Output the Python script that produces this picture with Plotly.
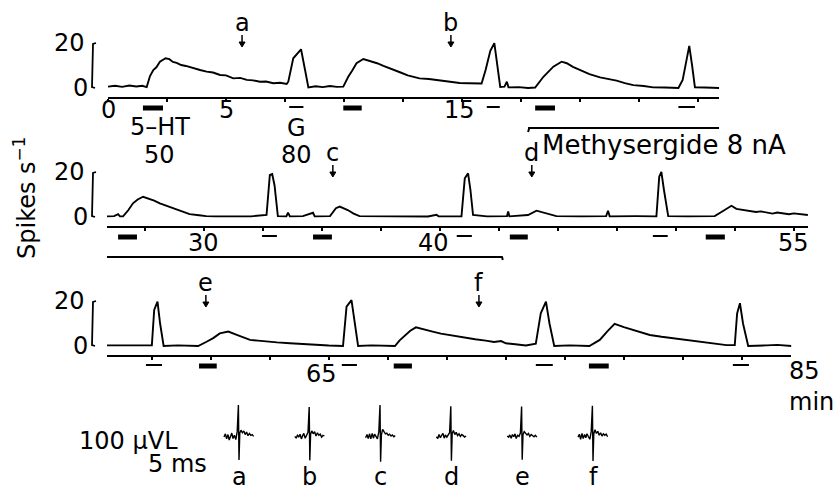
import plotly.graph_objects as go

W, H = 835, 492
FONT = "DejaVu Sans, Liberation Sans, Arial, sans-serif"
FS = 24

# ---------------- data ----------------
# firing rate (spikes/s) vs time (min), continuous record split in three rows
TOP_T = [0.0, 0.3, 0.6, 0.9, 1.2, 1.45, 1.64, 1.78, 1.92, 2.05, 2.2, 2.44, 2.6, 2.75, 2.91, 3.1, 3.3, 3.62,
         3.9, 4.18, 4.45, 4.75, 5.0, 5.31, 5.6, 5.88, 6.15, 6.44, 6.7, 7.0, 7.3, 7.57, 7.64, 7.85, 8.0, 8.18,
         8.35, 8.49, 8.8, 9.1, 9.4, 9.7, 9.97, 10.18, 10.35, 10.53, 10.82, 11.1, 11.4, 11.67, 12.0, 12.37,
         12.7, 13.2, 13.6, 14.07, 14.5, 14.9, 15.3, 15.76, 15.83, 16.0, 16.2, 16.37, 16.5, 16.62, 16.8, 16.9,
         16.97, 17.4, 17.8, 18.1, 18.45, 18.87, 19.22, 19.44, 19.7, 20.0, 20.4, 20.85, 21.2, 21.55, 21.9,
         22.26, 22.7, 23.1, 23.6, 24.17, 24.35, 24.5, 24.63, 24.75, 24.87, 25.3, 25.9]
TOP_V = [0.6, 1.0, 0.5, 1.1, 0.7, 1.0, 0.4, 5.3, 8.0, 9.2, 11.7, 13.2, 12.8, 11.6, 11.2, 10.2, 9.8, 8.7,
         8.0, 7.3, 6.9, 5.8, 5.6, 4.3, 4.5, 3.6, 3.4, 2.8, 2.9, 2.1, 2.3, 1.8, 2.8, 13.2, 15.0, 17.2,
         8.0, 0.3, 0.8, 0.4, 0.9, 0.5, 0.6, 5.0, 7.8, 11.0, 12.9, 12.1, 11.0, 9.8, 8.6, 7.0,
         5.6, 4.3, 4.0, 3.4, 2.6, 2.2, 2.1, 1.8, 2.0, 8.0, 16.5, 19.9, 10.0, 0.5, 0.6, 2.8,
         0.3, 0.4, 0.0, 0.2, 5.0, 9.5, 11.7, 11.0, 9.4, 8.0, 6.2, 4.7, 4.0, 3.3, 2.2,
         1.3, 0.9, 0.3, 0.2, 0.0, 3.6, 12.0, 18.7, 10.0, 0.3, 0.2, 0.0]

MID_T = [25.9, 26.2, 26.37, 26.45, 26.58, 26.8, 27.0, 27.2, 27.43, 27.64, 27.9, 28.14, 28.5, 28.85, 29.0,
         29.1, 29.4, 29.8, 30.1, 30.5, 31.0, 31.5, 32.0, 32.66, 32.8, 32.9, 33.0, 33.14, 33.5, 33.57, 33.65,
         34.2, 34.63, 34.7, 35.35, 35.6, 35.76, 36.1, 36.35, 36.6, 37.5, 38.5, 39.5, 39.86, 39.95, 40.92,
         41.06, 41.2, 41.3, 41.41, 42.0, 42.85, 42.9, 42.95, 43.74, 44.1, 44.38, 44.6, 44.94, 46.0, 47.05,
         47.13, 47.2, 48.3, 49.18, 49.3, 49.39, 49.5, 49.68, 50.5, 51.65, 51.9, 52.08, 52.36, 52.57, 52.8,
         53.14, 53.4, 53.6, 53.84, 54.1, 54.3, 54.55, 54.8, 55.0, 55.27, 55.6]
MID_V = [0.3, 0.4, 1.3, 0.3, 0.3, 3.0, 6.1, 7.8, 9.0, 8.3, 7.3, 6.1, 4.8, 3.4, 3.0,
         2.5, 1.3, 0.8, 0.4, 0.3, 0.4, 0.2, 0.3, 0.9, 18.7, 19.1, 14.0, 0.4, 0.3, 1.9, 0.3,
         0.4, 1.9, 0.3, 0.4, 3.9, 4.6, 3.1, 1.5, 0.4, 0.3, 0.4, 0.2, 1.0, 0.3, 0.3,
         17.2, 19.4, 12.0, 0.9, 0.3, 0.4, 2.4, 0.3, 0.9, 2.8, 1.9, 1.2, 0.4, 0.3, 0.4,
         2.8, 0.3, 0.4, 0.3, 17.9, 20.1, 12.0, 0.4, 0.3, 0.4, 2.0, 3.1, 5.0, 3.6, 3.3,
         2.8, 2.2, 2.5, 1.9, 1.5, 2.0, 1.6, 1.2, 1.6, 1.3, 0.9]

BOT_T = [55.6, 56.3, 57.0, 57.5, 57.6, 57.74, 57.85, 58.0, 58.6, 59.0, 59.46, 59.82, 60.1, 60.38, 60.74,
         61.1, 61.4, 61.66, 62.0, 62.37, 62.8, 63.35, 63.9, 64.48, 65.0, 65.6, 65.75, 65.96, 66.1, 66.24,
         66.8, 67.3, 67.8, 68.0, 68.2, 68.45, 68.69, 69.0, 69.4, 69.75, 70.1, 70.45, 70.8, 71.2, 71.65, 72.0,
         72.3, 72.5, 72.9, 73.35, 73.77, 73.98, 74.2, 74.35, 74.55, 75.2, 76.04, 76.48, 76.8, 77.11, 77.5,
         77.89, 78.2, 78.6, 79.1, 79.59, 80.1, 80.72, 81.3, 81.85, 82.2, 82.3, 82.42, 82.55, 82.77, 83.2,
         83.55, 84.0, 84.6]
BOT_V = [0.3, 0.2, 0.4, 0.3, 16.0, 19.7, 10.0, 0.0, 0.3, 0.2, 0.0, 1.9, 3.5, 5.6, 6.4,
         4.9, 3.9, 2.7, 2.4, 1.9, 1.6, 1.2, 0.8, 0.3, 0.2, 0.0, 17.5, 20.4, 10.0, 0.0,
         0.3, 0.2, 0.0, 2.5, 4.5, 6.8, 8.3, 7.6, 6.4, 5.5, 4.9, 4.0, 3.4, 3.0, 2.4, 1.8,
         2.2, 1.2, 0.8, 0.2, 1.0, 14.5, 19.7, 10.0, 0.0, 0.3, 0.0, 2.7, 6.5, 9.8, 8.4,
         7.1, 6.0, 4.9, 4.1, 3.4, 2.6, 1.9, 1.1, 0.4, 0.4, 14.5, 19.0, 10.0, 0.0, 0.3,
         0.3, 0.5, 0.0]

# drug application periods (min)
HT_BARS = [(1.48, 2.33), (9.97, 10.75), (18.1, 18.94), (26.37, 27.17), (34.63, 35.43), (42.97, 43.73),
           (51.27, 52.08), (59.5, 60.25), (67.75, 68.52), (76.02, 76.86)]
G_BARS = [(7.68, 8.28), (16.05, 16.6), (24.17, 24.87), (32.47, 33.1), (40.72, 41.36), (49.03, 49.66),
          (57.25, 57.93), (65.55, 66.19), (73.77, 74.49), (82.12, 82.8)]
METHYSERGIDE = (17.8, 42.67)

# sampling times of the spike records
ARROWS = [("a", 5.68), ("b", 14.53), ("c", 35.47), ("d", 43.9), ("e", 59.79), ("f", 71.36)]

TICK_LABELS = [[(0, "0"), (5, "5"), (15, "15")],
               [(30, "30"), (40, "40"), (55, "55")],
               [(65, "65")]]

# spike waveforms (ms, microvolts)
WAVE_T = [-7.5, -6.8, -6.2, -5.5, -4.9, -4.2, -3.6, -3.0, -2.3, -1.6, -0.9, -0.3, 0.0, 0.4, 1.0, 1.7,
          2.4, 3.1, 3.8, 4.5, 5.2, 5.9, 6.6, 7.3]
WAVES = {
    "a": [0, 18, -10, 14, -16, 6, 22, -8, 10, -14, 30, 176, -126, 22, 38, 24, 34, 14, 28, 8, 20, 10, 14, 4],
    "b": [4, -6, 10, 2, 16, -10, 8, 20, -6, 12, 26, 166, -128, 16, 34, 18, 30, 6, 24, 10, 16, 0, 10, 6],
    "c": [-4, 14, -8, 18, -10, 20, -6, 16, 4, -10, 28, 176, -136, 12, 42, 30, 18, 22, 10, 16, 6, 12, 2, 8],
    "d": [2, -8, 14, -4, 10, 20, -6, 12, 0, 16, 24, 170, -130, 20, 36, 14, 26, 8, 18, 4, 14, 8, 0, 6],
    "e": [6, 0, 12, -6, 14, 2, 18, -8, 10, 4, 22, 168, -124, 14, 30, 22, 12, 20, 4, 14, 8, 2, 10, 0],
    "f": [0, 16, -12, 20, -8, 14, -4, 18, 2, -12, 30, 172, -132, 18, 40, 20, 32, 10, 24, 6, 18, 10, 16, 2],
}

# ---------------- layout geometry ----------------
PX_PER_MIN = 23.6
PX_PER_UNIT = 2.25
Y_RANGE = [-4, 26]
ROWS = [dict(x0=108, t0=0.0, t1=25.9, ybot=97, T=TOP_T, V=TOP_V, lab_y=110, tip=47),
        dict(x0=107, t0=25.9, t1=55.6, ybot=226, T=MID_T, V=MID_V, lab_y=243, tip=177),
        dict(x0=107, t0=55.6, t1=84.6, ybot=355, T=BOT_T, V=BOT_V, lab_y=374, tip=307)]


def fx(px):
    return px / W


def fy(py):
    return 1 - py / H


fig = go.Figure()
layout = dict(width=W, height=H, margin=dict(l=0, r=0, t=0, b=0), paper_bgcolor="white",
              plot_bgcolor="white", showlegend=False, font=dict(family=FONT, size=FS, color="black"))
shapes, annots = [], []


def text(s, x, y, xref="paper", yref="paper", xanchor="center", yanchor="middle", size=FS, xshift=0,
         angle=0, align="center"):
    annots.append(dict(text=s, x=x, y=y, xref=xref, yref=yref, xanchor=xanchor, yanchor=yanchor,
                       showarrow=False, font=dict(family=FONT, size=size, color="black"),
                       xshift=xshift, textangle=angle, borderpad=0, align=align))


for i, r in enumerate(ROWS):
    n = "" if i == 0 else str(i + 1)
    xk, yk = "x" + n, "y" + n
    x1px = r["x0"] + (r["t1"] - r["t0"]) * PX_PER_MIN
    ytop = r["ybot"] - (Y_RANGE[1] - Y_RANGE[0]) * PX_PER_UNIT
    layout["xaxis" + n] = dict(domain=[fx(r["x0"]), fx(x1px)], range=[r["t0"], r["t1"]], anchor=yk,
                               showline=True, linecolor="black", linewidth=2, ticks="outside",
                               ticklen=3, tickwidth=1.5, tickcolor="black", tick0=0, dtick=2.5,
                               showticklabels=False, showgrid=False, zeroline=False, fixedrange=True)
    layout["yaxis" + n] = dict(domain=[fy(r["ybot"]), fy(ytop)], range=Y_RANGE, anchor=xk,
                               visible=False, showgrid=False, zeroline=False, fixedrange=True)
    fig.add_trace(go.Scatter(x=r["T"], y=r["V"], mode="lines", xaxis=xk, yaxis=yk,
                             line=dict(color="black", width=1.9), hoverinfo="skip"))
    # 0-20 scale bracket
    shapes.append(dict(type="path", xref="paper", yref=yk,
                       path=f"M {fx(96)},20 L {fx(93)},19.6 L {fx(92)},0.4 L {fx(95)},0",
                       line=dict(color="black", width=1.8)))
    text("20", fx(86), 20, yref=yk, xanchor="right")
    text("0", fx(89), 0, yref=yk, xanchor="right")
    # application bars
    for (a, b) in HT_BARS:
        if r["t0"] <= a < r["t1"]:
            yc = r["ybot"] + 11
            shapes.append(dict(type="rect", xref=xk, yref="paper", x0=a, x1=b, y0=fy(yc + 2.5),
                               y1=fy(yc - 2.5), fillcolor="black", line=dict(width=0)))
    for (a, b) in G_BARS:
        if r["t0"] <= a < r["t1"]:
            yc = r["ybot"] + 10
            shapes.append(dict(type="rect", xref=xk, yref="paper", x0=a, x1=b, y0=fy(yc + 1),
                               y1=fy(yc - 1), fillcolor="black", line=dict(width=0)))
    # sample arrows
    for lab, t in ARROWS:
        if r["t0"] <= t < r["t1"]:
            tip = r["tip"]
            hw = 3 / PX_PER_MIN
            shapes.append(dict(type="line", xref=xk, yref="paper", x0=t, x1=t, y0=fy(tip - 12),
                               y1=fy(tip - 4), line=dict(color="black", width=1.5)))
            shapes.append(dict(type="path", xref=xk, yref="paper",
                               path=f"M {t - hw},{fy(tip - 5)} L {t + hw},{fy(tip - 5)} L {t},{fy(tip)} Z",
                               fillcolor="black", line=dict(color="black", width=1)))
            text(lab, t, fy(tip - 24), xref=xk)
    # tick labels
    for (t, s) in TICK_LABELS[i]:
        sh = {"15": -3, "40": -6, "65": -7}.get(s, 0)
        text(s, t, fy(r["lab_y"]), xref=xk, xshift=sh)

# end label of the last row (85 min lies just past the drawn axis) with the unit below it
text("85<br>min", fx(788), fy(386), xanchor="left", align="left")

# methysergide line (top row part and middle row part)
m0, m1 = METHYSERGIDE
shapes.append(dict(type="line", xref="x", yref="paper", x0=m0, x1=ROWS[0]["t1"], y0=fy(128), y1=fy(128),
                   line=dict(color="black", width=2)))
shapes.append(dict(type="line", xref="x", yref="paper", x0=m0, x1=m0 + 0.05, y0=fy(132), y1=fy(128),
                   line=dict(color="black", width=2)))
shapes.append(dict(type="line", xref="x2", yref="paper", x0=ROWS[1]["t0"], x1=m1, y0=fy(257), y1=fy(257),
                   line=dict(color="black", width=2)))
shapes.append(dict(type="line", xref="x2", yref="paper", x0=m1 - 0.03, x1=m1, y0=fy(257), y1=fy(260),
                   line=dict(color="black", width=2)))

# other labels
text("5–HT", fx(160), fy(127))
text("50", fx(159), fy(155))
text("G", fx(296), fy(128))
text("80", fx(296), fy(155))
text("Methysergide 8 nA", fx(541), fy(145), xanchor="left", size=26)
text("Spikes s<sup>−1</sup>", fx(25), fy(198), angle=-90)

# spike waveforms
WAVE_X0 = 19.5
WAVE_SPACING = 35.4
layout["xaxis4"] = dict(domain=[fx(200), fx(640)], range=[0, 220], anchor="y4", visible=False, fixedrange=True)
layout["yaxis4"] = dict(domain=[fy(470), fy(400)], range=[-181, 204], anchor="x4", visible=False, fixedrange=True)
for k, (lab, vals) in enumerate(WAVES.items()):
    c = WAVE_X0 + k * WAVE_SPACING
    fig.add_trace(go.Scatter(x=[c + t for t in WAVE_T], y=vals, mode="lines", xaxis="x4", yaxis="y4",
                             line=dict(color="black", width=1.4), hoverinfo="skip"))
    text(lab, c, 0.0, xref="x4", yanchor="bottom")

text("100 μVL", fx(78), fy(441), xanchor="left")
text("5 ms", fx(147), fy(464), xanchor="left")

layout["shapes"] = shapes
layout["annotations"] = annots
fig.update_layout(**layout)
fig.write_html("out.html", config={"displayModeBar": False},
               post_script="document.body.style.margin='0';document.body.style.overflow='hidden';")
